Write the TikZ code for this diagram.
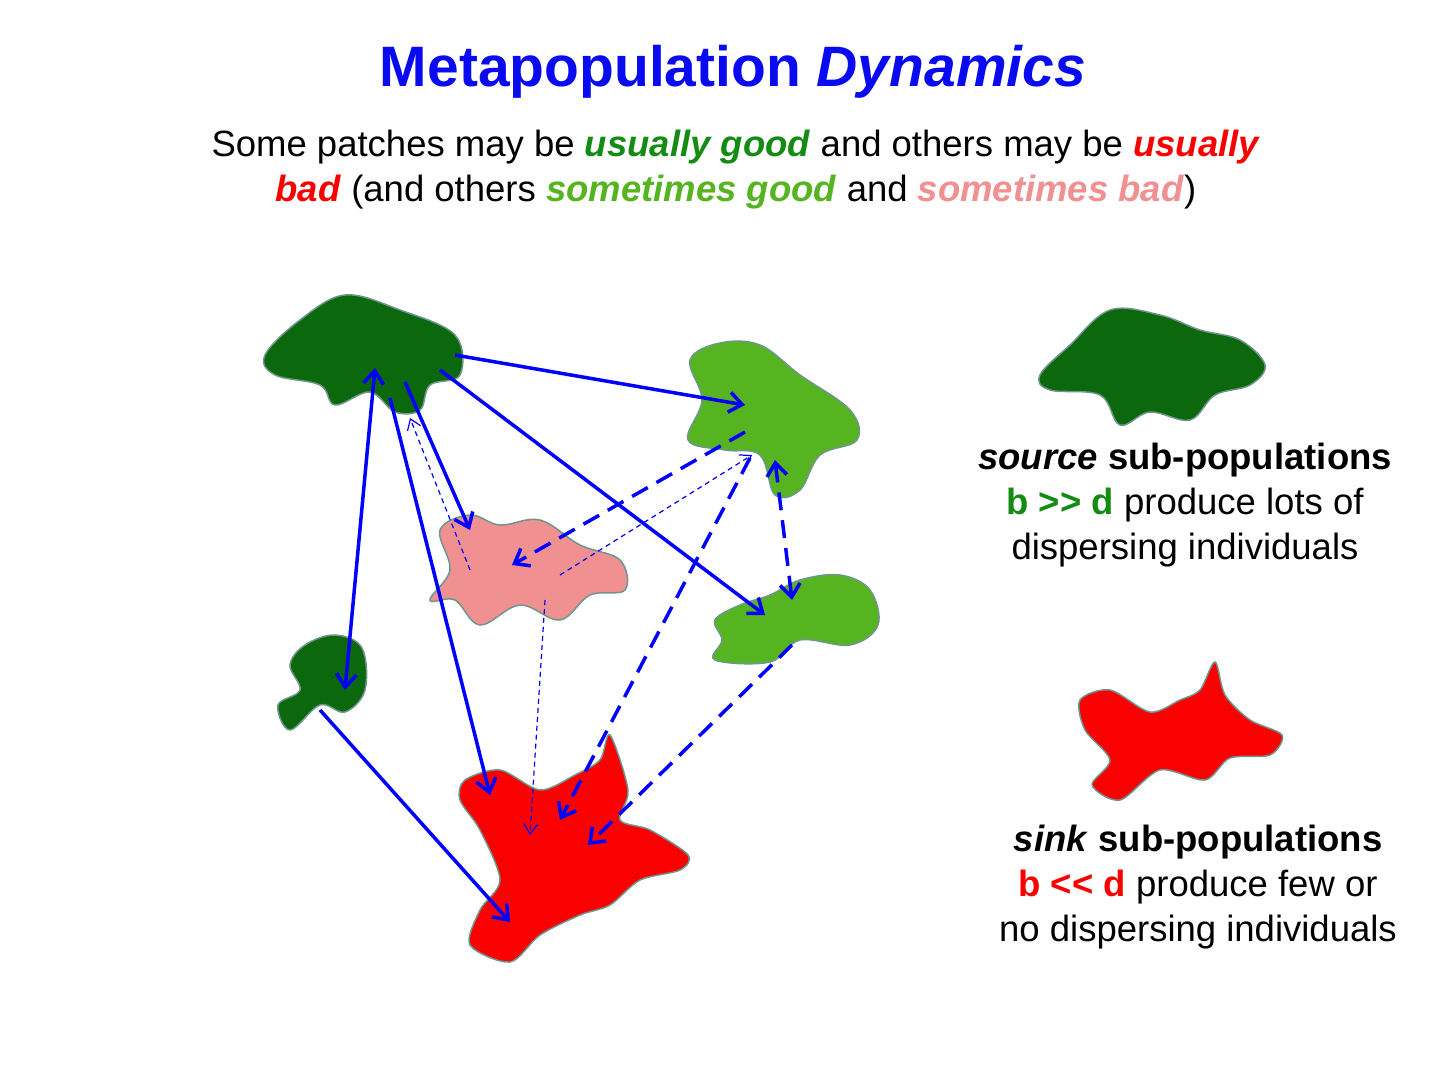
\documentclass[tikz,border=0pt]{standalone}
\usepackage{fontspec}
\setmainfont{Liberation Sans}
\usetikzlibrary{arrows.meta}
\definecolor{deepgreen}{RGB}{12,104,12}
\definecolor{lightgreen}{RGB}{86,180,32}
\definecolor{pinkpatch}{RGB}{240,144,144}
\definecolor{redpatch}{RGB}{250,0,0}
\definecolor{rim}{RGB}{110,150,140}
\definecolor{titleblue}{RGB}{10,10,240}
\definecolor{goodgreen}{RGB}{20,140,20}

\begin{document}
\begin{tikzpicture}[x=1pt,y=-1pt,
  patch/.style={draw=rim,line width=1.5pt},
  barb/.style={Straight Barb[length=13pt,width=20pt]},
  flow/.style={draw=blue,line width=3.5pt,-{Straight Barb[length=13pt,width=20pt]}},
  twoway/.style={{Straight Barb[length=13pt,width=20pt]}-{Straight Barb[length=13pt,width=20pt]}},
  dflow/.style={flow,dash pattern=on 18pt off 10pt},
  tflow/.style={draw=blue,line width=1.2pt,dash pattern=on 5pt off 4pt,-{Straight Barb[length=10pt,width=14pt]}},
  txt/.style={font=\fontsize{36.5}{45}\selectfont,align=center,inner sep=0pt}]
\useasboundingbox (0,0) rectangle (1440,1082);

% title and subtitle
\node[txt,font=\fontsize{57}{60}\selectfont\bfseries,text=titleblue] (title) at (733,72) {Metapopulation \textit{Dynamics}};
\node[txt] (sub) at (736,170) {Some patches may be \textcolor{goodgreen}{\textbf{\textit{usually good}}} and others may be \textcolor{redpatch}{\textbf{\textit{usually}}}\\
\textcolor{redpatch}{\textbf{\textit{bad}}} (and others \textcolor{lightgreen}{\textbf{\textit{sometimes good}}} and \textcolor{pinkpatch}{\textbf{\textit{sometimes bad}}})};

% patches
\filldraw[patch,fill=deepgreen] plot[smooth cycle,tension=0.6] coordinates {(265,355) (300,320) (345,295) (400,310) (455,335) (460,375) (430,385) (420,410) (395,412) (370,392) (335,405) (320,385) (275,375)};
\filldraw[patch,fill=lightgreen] plot[smooth cycle,tension=0.6] coordinates {(690,360) (720,343) (760,345) (800,375) (850,410) (857,440) (820,455) (800,490) (775,495) (760,455) (725,450) (688,440) (702,400)};
\filldraw[patch,fill=pinkpatch] plot[smooth cycle,tension=0.6] coordinates {(440,530) (470,515) (500,525) (540,520) (580,545) (620,560) (625,590) (590,595) (560,620) (520,605) (480,625) (455,600) (430,600) (450,570)};
\filldraw[patch,fill=lightgreen] plot[smooth cycle,tension=0.6] coordinates {(715,620) (740,605) (770,595) (800,580) (840,575) (870,590) (878,625) (850,645) (800,640) (770,662) (715,660) (722,640)};
\filldraw[patch,fill=deepgreen] plot[smooth cycle,tension=0.6] coordinates {(305,645) (335,635) (362,648) (365,690) (345,712) (320,705) (290,730) (278,705) (300,690) (290,665)};
\filldraw[patch,fill=redpatch] plot[smooth cycle,tension=0.5] coordinates {(465,780) (500,770) (540,790) (575,775) (600,760) (610,735) (628,790) (620,820) (650,830) (688,855) (680,870) (640,880) (610,905) (580,915) (540,935) (510,962) (470,945) (480,910) (500,880) (480,830) (460,800)};
% legend patches
\filldraw[patch,fill=deepgreen] plot[smooth cycle,tension=0.6] coordinates {(1040,375) (1070,345) (1110,310) (1160,315) (1200,330) (1240,340) (1265,365) (1250,385) (1215,395) (1190,420) (1150,412) (1120,425) (1100,395) (1050,390)};
\filldraw[patch,fill=redpatch] plot[smooth cycle,tension=0.5] coordinates {(1080,700) (1110,690) (1150,712) (1180,700) (1200,690) (1215,662) (1225,695) (1250,720) (1282,735) (1270,755) (1230,758) (1205,780) (1160,770) (1120,800) (1092,785) (1110,760) (1085,730)};

% arrow ends
\coordinate (dgA) at (455,355); \coordinate (dgB) at (440,370); \coordinate (dgC) at (405,382);
\coordinate (dgD) at (375,368); \coordinate (dgE) at (390,398); \coordinate (dgF) at (410,418);
\coordinate (lgA) at (745,405); \coordinate (lgB) at (745,432); \coordinate (lgC) at (750,458);
\coordinate (lgD) at (775,460); \coordinate (lgE) at (752,455);
\coordinate (pkA) at (470,530); \coordinate (pkB) at (512,565); \coordinate (pkC) at (470,570);
\coordinate (pkD) at (560,575); \coordinate (pkE) at (545,600);
\coordinate (sgA) at (765,615); \coordinate (sgB) at (792,600); \coordinate (sgC) at (792,645);
\coordinate (ssA) at (345,690); \coordinate (ssB) at (320,710);
\coordinate (rdA) at (490,795); \coordinate (rdB) at (510,922); \coordinate (rdC) at (560,820);
\coordinate (rdD) at (588,845); \coordinate (rdE) at (530,835);

% connectors
\draw[flow] (dgA) -- (lgA);
\draw[flow] (dgB) -- (sgA);
\draw[flow] (dgC) -- (pkA);
\draw[flow,twoway] (dgD) -- (ssA);
\draw[flow] (dgE) -- (rdA);
\draw[flow] (ssB) -- (rdB);
\draw[dflow] (lgB) -- (pkB);
\draw[dflow] (lgC) -- (rdC);
\draw[dflow,twoway] (lgD) -- (sgB);
\draw[dflow] (sgC) -- (rdD);
\draw[tflow] (pkC) -- (dgF);
\draw[tflow] (pkD) -- (lgE);
\draw[tflow] (pkE) -- (rdE);

% legend texts
\node[txt] (srclbl) at (1185,505) {\textbf{\textit{source}} \textbf{sub-populations}\\
\textcolor{goodgreen}{\textbf{b {>}{>} d}} produce lots of\\ dispersing individuals};
\node[txt] (sinklbl) at (1198,887) {\textbf{\textit{sink}} \textbf{sub-populations}\\
\textcolor{redpatch}{\textbf{b {<}{<} d}} produce few or\\ no dispersing individuals};
\end{tikzpicture}
\end{document}
